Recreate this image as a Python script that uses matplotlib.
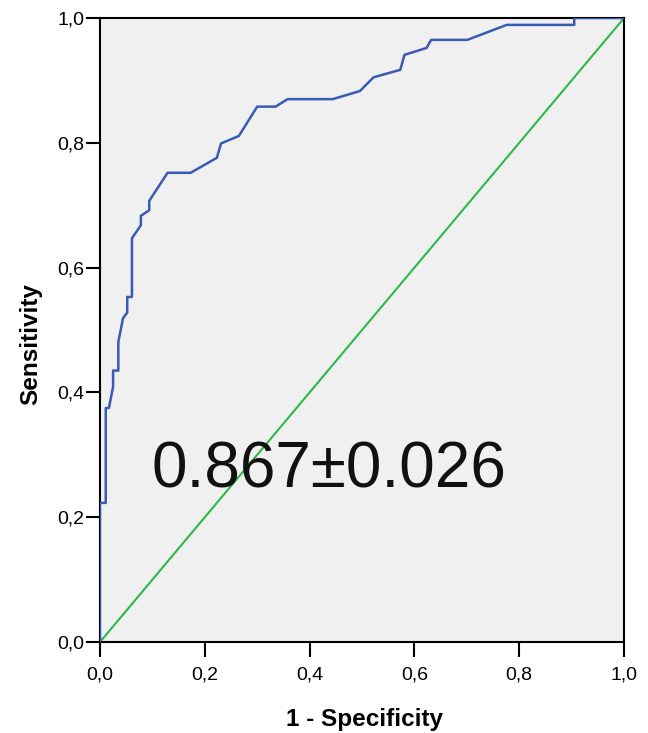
import matplotlib
matplotlib.use('Agg')
import matplotlib.pyplot as plt
from matplotlib.ticker import FuncFormatter

# ROC curve points
fpr = [0.0, 0.0, 0.011, 0.011, 0.017, 0.025, 0.025, 0.035, 0.035, 0.044, 0.052, 0.052,
       0.061, 0.061, 0.078, 0.078, 0.094, 0.094, 0.129, 0.173, 0.223, 0.231, 0.265,
       0.300, 0.335, 0.358, 0.444, 0.496, 0.522, 0.573, 0.581, 0.623, 0.632, 0.701,
       0.776, 0.905, 0.905, 1.0]
tpr = [0.0, 0.223, 0.223, 0.375, 0.375, 0.409, 0.435, 0.435, 0.481, 0.519, 0.528, 0.553,
       0.553, 0.647, 0.668, 0.683, 0.692, 0.707, 0.752, 0.752, 0.776, 0.799, 0.811,
       0.858, 0.858, 0.870, 0.870, 0.883, 0.905, 0.917, 0.941, 0.952, 0.965, 0.965,
       0.989, 0.989, 1.0, 1.0]
ref_x = [0.0, 1.0]
ref_y = [0.0, 1.0]
ticks = [0.0, 0.2, 0.4, 0.6, 0.8, 1.0]
auc_text = '0.867\u00b10.026'

fam = ['Liberation Sans', 'DejaVu Sans']

fig = plt.figure(figsize=(6.48, 7.33), dpi=100)
ax = fig.add_axes([0.1543, 0.1241, 0.8087, 0.8513])
ax.set_facecolor('#f0f0f0')

ax.plot(ref_x, ref_y, color='#2db84a', lw=1.5, zorder=2)
ax.plot(fpr, tpr, color='#3a5bb5', lw=1.8, zorder=3)

ax.set_xlim(0, 1)
ax.set_ylim(0, 1)
ax.set_xticks(ticks)
ax.set_yticks(ticks)
fmt = FuncFormatter(lambda v, p: f'{v:.1f}'.replace('.', ','))
ax.xaxis.set_major_formatter(fmt)
ax.yaxis.set_major_formatter(fmt)
ax.tick_params(axis='both', direction='out', width=1.5, colors='black',
               labelsize=14)
ax.tick_params(axis='x', length=11, pad=6.5)
ax.tick_params(axis='y', length=10, pad=1.5)
for lab in ax.get_xticklabels() + ax.get_yticklabels():
    lab.set_family(fam)

for s in ax.spines.values():
    s.set_linewidth(1.5)
    s.set_color('black')

ax.set_xlabel('1 - Specificity', family=fam, fontweight='bold', fontsize=17.5)
ax.set_ylabel('Sensitivity', family=fam, fontweight='bold', fontsize=17.5)
ax.xaxis.set_label_coords(0.504, -0.105)
ax.yaxis.set_label_coords(-0.11, 0.478)

ax.text(0.099, 0.248, auc_text, family=fam,
        fontsize=46, color='#111111', ha='left', va='baseline')

fig.savefig('out.png', dpi=100)
